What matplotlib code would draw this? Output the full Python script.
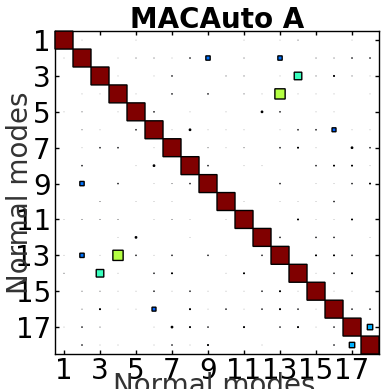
import numpy as np
import matplotlib
matplotlib.use('Agg')
import matplotlib.pyplot as plt
from matplotlib.patches import Rectangle

# modes and upper triangle of the MAC matrix (diagonal is 1)
modes = list(range(1, 19))
pair_i = [1, 1, 1, 1, 1, 1,
          2, 2, 2, 2, 2, 2, 2, 2, 2, 2, 2, 2,
          3, 3, 3, 3, 3, 3, 3, 3, 3, 3, 3,
          4, 4, 4, 4, 4, 4, 4, 4, 4, 4,
          5, 5, 5, 5, 5, 5, 5,
          6, 6, 6, 6, 6, 6, 6, 6, 6, 6, 6,
          7, 7, 7, 7, 7, 7, 7, 7,
          8, 8, 8, 8, 8, 8, 8,
          9, 9, 9, 9, 9,
          10, 10, 10, 10, 10,
          11, 11, 11, 11,
          12, 12, 12, 12,
          13, 13, 13,
          14, 14, 14,
          15, 15,
          16, 16,
          17]
pair_j = [2, 5, 11, 13, 14, 17,
          4, 5, 6, 7, 8, 9, 11, 13, 15, 16, 17, 18,
          4, 6, 7, 10, 11, 13, 14, 15, 16, 17, 18,
          5, 7, 9, 11, 12, 13, 14, 15, 16, 18,
          6, 8, 10, 12, 13, 15, 16,
          7, 8, 9, 10, 11, 13, 14, 15, 16, 17, 18,
          9, 10, 11, 13, 14, 15, 17, 18,
          9, 11, 12, 15, 16, 17, 18,
          13, 15, 16, 17, 18,
          11, 13, 14, 15, 16,
          14, 15, 16, 17,
          13, 15, 16, 18,
          15, 16, 17,
          15, 16, 17,
          16, 17,
          17, 18,
          18]
pair_mac = [0.004, 0.004, 0.004, 0.004, 0.01, 0.004,
            0.004, 0.01, 0.01, 0.004, 0.02, 0.24, 0.01, 0.24, 0.01, 0.01, 0.02, 0.02,
            0.004, 0.004, 0.02, 0.01, 0.01, 0.004, 0.42, 0.01, 0.035, 0.01, 0.004,
            0.004, 0.02, 0.02, 0.01, 0.004, 0.57, 0.004, 0.004, 0.004, 0.004,
            0.02, 0.004, 0.004, 0.07, 0.02, 0.004, 0.004,
            0.004, 0.07, 0.004, 0.004, 0.004, 0.004, 0.02, 0.02, 0.22, 0.004, 0.004,
            0.01, 0.004, 0.01, 0.02, 0.035, 0.004, 0.07, 0.02,
            0.02, 0.004, 0.004, 0.02, 0.035, 0.035, 0.004,
            0.02, 0.004, 0.004, 0.02, 0.035,
            0.004, 0.004, 0.004, 0.004, 0.02,
            0.035, 0.004, 0.004, 0.035,
            0.02, 0.02, 0.02, 0.004,
            0.035, 0.035, 0.02,
            0.004, 0.02, 0.035,
            0.004, 0.004,
            0.02, 0.02,
            0.30]

n = len(modes)
mac = np.eye(n)
for i, j, v in zip(pair_i, pair_j, pair_mac):
    mac[i - 1, j - 1] = v
    mac[j - 1, i - 1] = v

plt.rcParams['font.family'] = 'DejaVu Sans'
fig = plt.figure(figsize=(3.83, 3.89), dpi=100)
ax = fig.add_axes([0.1436, 0.09, 0.846, 0.83])

cmap = plt.get_cmap('jet')
for r in range(n):
    for c in range(n):
        v = mac[r, c]
        if v <= 0:
            continue
        # tiny values only show as a grey dot from the edge
        lw = 1.0 if v > 0.015 else 0.6
        ax.add_patch(Rectangle((modes[c] - v / 2, modes[r] - v / 2), v, v,
                               facecolor=cmap(v), edgecolor='black',
                               linewidth=lw, snap=False, clip_on=False, zorder=3))

ax.set_xlim(0.5, n + 0.5)
ax.set_ylim(n + 0.5, 0.5)
ax.set_xticks(modes[::2])
ax.set_yticks(modes[::2])
ax.tick_params(direction='in', top=True, right=True, length=3, width=1,
               labelsize=20, colors='black')
ax.tick_params(axis='x', pad=2)
ax.tick_params(axis='y', pad=3)
for s in ax.spines.values():
    s.set_linewidth(1.0)

ax.set_title('MACAuto A', fontsize=20, fontweight='bold', pad=2)
ax.set_xlabel('Normal modes', fontsize=20, color='0.2')
ax.set_ylabel('Normal modes', fontsize=20, color='0.2')
ax.xaxis.set_label_coords(0.49, -0.055)
ax.yaxis.set_label_coords(-0.065, 0.5)

fig.savefig('out.png', dpi=100)
